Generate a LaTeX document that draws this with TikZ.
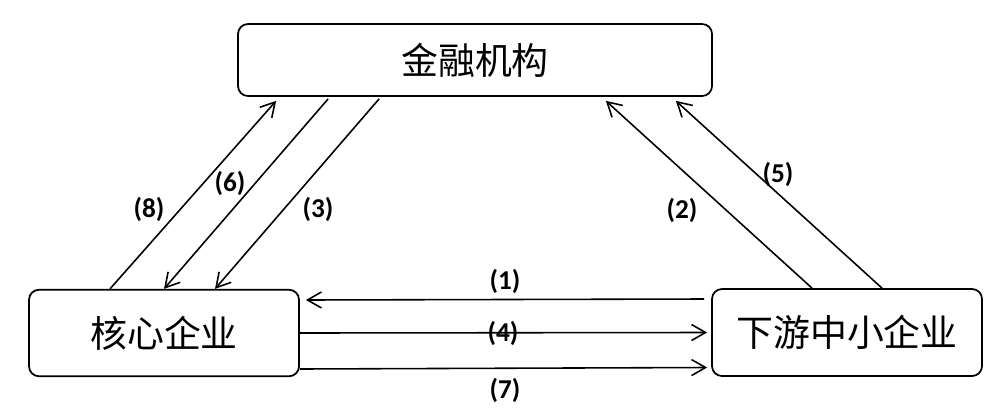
\documentclass[tikz,border=0pt]{standalone}
\usepackage{fontspec}
\usetikzlibrary{arrows.meta}
\newfontfamily\cjk{Noto Sans CJK SC}
\newfontfamily\labfont{Carlito}

\begin{document}
\begin{tikzpicture}[
    box/.style={draw, line width=1pt, rounded corners=2mm, minimum width=54mm, minimum height=17.3mm, font=\cjk\fontsize{21pt}{25pt}\selectfont},
    flowarrow/.style={-{Straight Barb[length=2.8mm, width=3.2mm]}, line width=0.9pt},
    numlabel/.style={font=\labfont\bfseries\fontsize{15.5pt}{18pt}\selectfont, inner sep=0pt}
  ]
  \useasboundingbox (0,0) rectangle (20.1,-8.28);

  \coordinate (finp)  at (9.5,-1.2);
  \coordinate (corep) at (3.28,-6.66);
  \coordinate (smep)  at (16.94,-6.65);

  \coordinate (l1p) at (10.1,-5.62);
  \coordinate (l2p) at (13.64,-4.2);
  \coordinate (l3p) at (6.36,-4.18);
  \coordinate (l4p) at (10.06,-6.66);
  \coordinate (l5p) at (15.56,-3.48);
  \coordinate (l6p) at (4.6,-3.66);
  \coordinate (l7p) at (10.1,-7.8);
  \coordinate (l8p) at (2.98,-4.18);

  % Parties
  \node[box, minimum width=94.8mm, minimum height=14.4mm] (fin) at (finp) {金融机构};
  \node[box] (core) at (corep) {核心企业};
  \node[box, minimum height=17.4mm] (sme) at (smep) {下游中小企业};

  % Flows
  \draw[flowarrow] ([xshift=-0.14cm, yshift=0.67cm]sme.west) -- ([xshift=0.12cm, yshift=0.66cm]core.east);
  \draw[flowarrow] ([xshift=-0.7cm]sme.north) -- ([xshift=-2.14cm, yshift=-0.08cm]fin.south east);
  \draw[flowarrow] ([xshift=2.84cm, yshift=-0.04cm]fin.south west) -- ([xshift=1.02cm]core.north);
  \draw[flowarrow] (core.east) -- ([xshift=-0.08cm]sme.west);
  \draw[flowarrow] ([xshift=0.7cm]sme.north) -- ([xshift=-0.74cm, yshift=-0.08cm]fin.south east);
  \draw[flowarrow] ([xshift=1.82cm, yshift=-0.04cm]fin.south west) -- (core.north);
  \draw[flowarrow] ([yshift=-0.72cm]core.east) -- ([xshift=-0.08cm, yshift=-0.7cm]sme.west);
  \draw[flowarrow] ([xshift=-1.08cm]core.north) -- ([xshift=0.78cm, yshift=-0.08cm]fin.south west);

  % Step numbers
  \node[numlabel] (l1) at (l1p) {(1)};
  \node[numlabel] (l2) at (l2p) {(2)};
  \node[numlabel] (l3) at (l3p) {(3)};
  \node[numlabel] (l4) at (l4p) {(4)};
  \node[numlabel] (l5) at (l5p) {(5)};
  \node[numlabel] (l6) at (l6p) {(6)};
  \node[numlabel] (l7) at (l7p) {(7)};
  \node[numlabel] (l8) at (l8p) {(8)};

\end{tikzpicture}
\end{document}
